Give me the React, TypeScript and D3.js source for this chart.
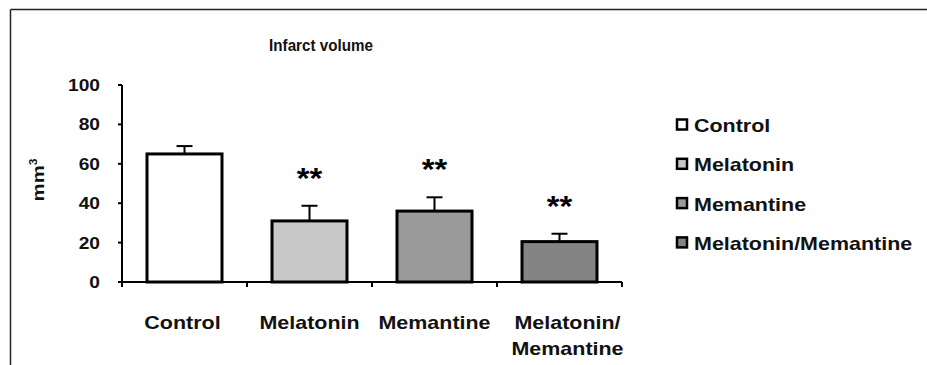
import React from "react";
import * as d3 from "d3";

const categories = ["Control", "Melatonin", "Memantine", "Melatonin/Memantine"];
const categoryLabels = [["Control"], ["Melatonin"], ["Memantine"], ["Melatonin/", "Memantine"]];
const means = [65, 31, 36, 20.5];
const errors = [4, 7.7, 7, 4];
const significance = ["", "**", "**", "**"];
const fills = ["#ffffff", "#c8c8c8", "#9a9a9a", "#848484"];
const yTicks = [0, 20, 40, 60, 80, 100];
const title = "Infarct volume";
const yLabel = "mm";

const SX = 1.13;

export default function App() {
  const W = 927, H = 365;
  const x0 = 122, x1 = 622, yTop = 85, yBottom = 282;
  const x = d3.scaleBand<string>().domain(categories).range([x0, x1]).paddingInner(0.4).paddingOuter(0.2);
  const y = d3.scaleLinear().domain([0, 100]).range([yBottom, yTop]);
  const step = x.step();
  const font = "'Liberation Sans', Arial, Helvetica, sans-serif";
  const boundaries = d3.range(categories.length + 1).map((i) => x0 + i * step);
  const at = (px: number, py: number) => `translate(${px},${py}) scale(${SX},1)`;

  return (
    <div style={{ position: "absolute", left: 0, top: 0 }}>
      <svg width={W} height={H} style={{ display: "block", background: "#fff" }} fontFamily={font}>
        <rect x={0} y={0} width={W} height={H} fill="#fff" />
        {/* frame */}
        <line x1={10.5} y1={9.5} x2={W} y2={9.5} stroke="#222" strokeWidth={1.5} />
        <line x1={10.5} y1={9.5} x2={10.5} y2={H} stroke="#222" strokeWidth={1.5} />
        {/* title */}
        <text transform={`translate(321,51) scale(0.95,1)`} textAnchor="middle" fontSize={16} fontWeight="bold" fill="#111">{title}</text>
        {/* y label */}
        <text transform={`translate(44,180) rotate(-90) scale(1.2,1)`} textAnchor="middle" fontSize={17} fontWeight="bold" fill="#111">
          {yLabel}
          <tspan fontSize={10} dy={-7}>3</tspan>
        </text>
        {/* bars */}
        {categories.map((c, i) => {
          const bx = x(c)!;
          const bw = x.bandwidth();
          const cx = bx + bw / 2;
          const top = y(means[i]);
          const errTop = y(means[i] + errors[i]);
          return (
            <g key={c}>
              <line x1={cx} x2={cx} y1={top} y2={errTop} stroke="#000" strokeWidth={2} />
              <line x1={cx - 8} x2={cx + 8} y1={errTop} y2={errTop} stroke="#000" strokeWidth={2} />
              <rect x={bx} y={top} width={bw} height={yBottom - top} fill={fills[i]} stroke="#000" strokeWidth={3} />
              {significance[i] && (
                <text transform={at(cx, errTop - 18)} textAnchor="middle" fontSize={29} fontWeight="bold" fill="#000">{significance[i]}</text>
              )}
            </g>
          );
        })}
        {/* y axis */}
        <line x1={x0} x2={x0} y1={yTop} y2={yBottom + 4} stroke="#000" strokeWidth={2} />
        {yTicks.map((t) => (
          <g key={t}>
            <line x1={x0 - 4} x2={x0} y1={y(t)} y2={y(t)} stroke="#000" strokeWidth={2} />
            <text transform={at(x0 - 22, y(t) + 6)} textAnchor="end" fontSize={17} fontWeight="bold" fill="#111">{t}</text>
          </g>
        ))}
        {/* x axis */}
        <line x1={x0} x2={x1} y1={yBottom} y2={yBottom} stroke="#000" strokeWidth={2} />
        {boundaries.map((b, i) => (
          <line key={i} x1={b} x2={b} y1={yBottom} y2={yBottom + 5} stroke="#000" strokeWidth={2} />
        ))}
        {categories.map((c, i) => {
          const cx = x(c)! + x.bandwidth() / 2 + (i === 3 ? 8 : i === 0 ? -2 : 0);
          return (
            <text key={c} transform={at(cx, 329)} textAnchor="middle" fontSize={19} fontWeight="bold" fill="#111">
              {categoryLabels[i].map((l, j) => (
                <tspan key={j} x={0} dy={j === 0 ? 0 : 26}>{l}</tspan>
              ))}
            </text>
          );
        })}
        {/* legend */}
        {categories.map((c, i) => {
          const ly = 125 + i * 39.3;
          return (
            <g key={c}>
              <rect x={677} y={ly - 5.5} width={10} height={10} fill={fills[i]} stroke="#000" strokeWidth={2.5} />
              <text transform={at(694, ly + 7)} fontSize={19} fontWeight="bold" fill="#111">{c}</text>
            </g>
          );
        })}
      </svg>
    </div>
  );
}
